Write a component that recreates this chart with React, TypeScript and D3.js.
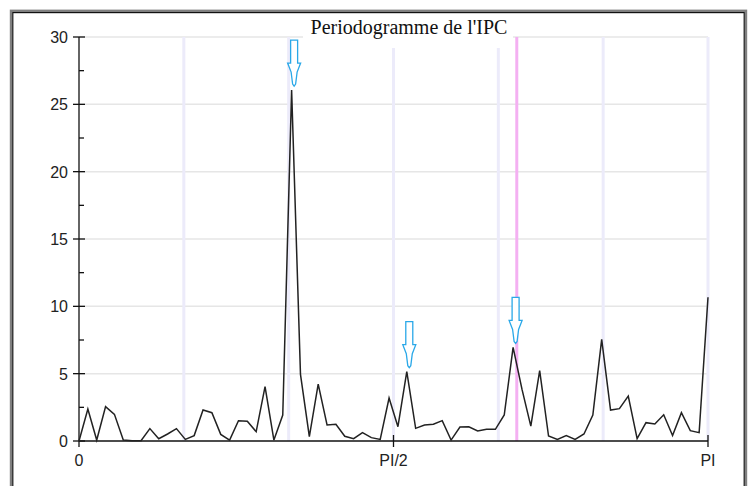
import React, { useRef, useEffect } from 'react';
import * as d3 from 'd3';

// periodogram ordinates, k = 0..71, frequency k*PI/71
const periodogram = [
  0, 2.38, 0.07, 2.55, 1.98, 0.07, 0.02, 0.02, 0.92, 0.17,
  0.52, 0.92, 0.12, 0.4, 2.3, 2.1, 0.49, 0.07, 1.51, 1.46,
  0.69, 4.03, 0.07, 1.93, 26.06, 4.95, 0.32, 4.23, 1.19, 1.24,
  0.35, 0.17, 0.62, 0.25, 0.12, 3.19, 1.06, 5.15, 0.94, 1.19,
  1.24, 1.51, 0.07, 1.04, 1.06, 0.74, 0.87, 0.87, 1.93, 6.95,
  3.85, 1.11, 5.22, 0.37, 0.12, 0.4, 0.12, 0.52, 1.93, 7.55,
  2.3, 2.4, 3.34, 0.17, 1.36, 1.26, 1.95, 0.4, 2.1, 0.77,
  0.62, 10.67,
];
const seasonalFreqs = [1, 2, 3, 4, 5, 6].map(k => (k * Math.PI) / 6);
const tradingDayFreq = 0.348 * 2 * Math.PI;
const arrowPeaks = [24, 37, 49];
const yTicks = [0, 5, 10, 15, 20, 25, 30];
const yMinorTicks = [2.5, 7.5, 12.5, 17.5, 22.5, 27.5];
const xTicks = [
  { value: 0, label: '0' },
  { value: Math.PI / 2, label: 'PI/2' },
  { value: Math.PI, label: 'PI' },
];

const W = 749;
const H = 486;
const sans = '"Liberation Sans", Arial, sans-serif';

function Periodogram() {
  const svgRef = useRef<SVGSVGElement>(null);

  useEffect(() => {
    const svg = d3.select(svgRef.current);
    svg.selectAll('*').remove();

    const x = d3.scaleLinear().domain([0, Math.PI]).range([79, 708]);
    const y = d3.scaleLinear().domain([0, 30]).range([441, 37]);
    const n = periodogram.length - 1;

    // frame
    svg.append('rect').attr('x', 0).attr('y', 0).attr('width', W).attr('height', H).attr('fill', '#fff');
    svg.append('rect')
      .attr('x', 11).attr('y', 10.8).attr('width', 735).attr('height', 490)
      .attr('fill', 'none').attr('stroke', '#808080').attr('stroke-width', 2.4);
    svg.append('rect')
      .attr('x', 12.8).attr('y', 12.6).attr('width', 731.4).attr('height', 490)
      .attr('fill', 'none').attr('stroke', '#111').attr('stroke-width', 1.2);

    // horizontal grid
    svg.append('g').selectAll('line')
      .data(yTicks.filter(d => d > 0))
      .enter().append('line')
      .attr('x1', x(0)).attr('x2', x(Math.PI))
      .attr('y1', d => y(d)).attr('y2', d => y(d))
      .attr('stroke', '#e6e6e6').attr('stroke-width', 1.5);

    // seasonal + trading day frequencies
    svg.append('g').selectAll('line')
      .data(seasonalFreqs)
      .enter().append('line')
      .attr('x1', d => x(d)).attr('x2', d => x(d))
      .attr('y1', y(30)).attr('y2', y(0))
      .attr('stroke', '#ecebfa').attr('stroke-width', 3);
    svg.append('line')
      .attr('x1', x(tradingDayFreq)).attr('x2', x(tradingDayFreq))
      .attr('y1', y(30)).attr('y2', y(0))
      .attr('stroke', '#f4b0f2').attr('stroke-width', 3);

    // title with its white box
    svg.append('rect')
      .attr('x', 303).attr('y', 18).attr('width', 210).attr('height', 30)
      .attr('fill', '#fff');
    svg.append('text')
      .attr('x', 409).attr('y', 34)
      .attr('text-anchor', 'middle')
      .attr('font-family', '"Liberation Serif", "Times New Roman", serif')
      .attr('font-size', 20)
      .attr('fill', '#111')
      .text("Periodogramme de l'IPC");

    // y axis
    const ya = svg.append('g').attr('stroke', '#111');
    ya.append('line').attr('x1', x(0)).attr('x2', x(0)).attr('y1', y(30)).attr('y2', y(0)).attr('stroke-width', 1.3);
    ya.selectAll('.maj').data(yTicks).enter().append('line')
      .attr('x1', x(0) - 6).attr('x2', x(0) + 6)
      .attr('y1', d => y(d)).attr('y2', d => y(d)).attr('stroke-width', 1.3);
    ya.selectAll('.min').data(yMinorTicks).enter().append('line')
      .attr('x1', x(0)).attr('x2', x(0) + 5)
      .attr('y1', d => y(d)).attr('y2', d => y(d)).attr('stroke-width', 1.3);
    svg.append('g').selectAll('text')
      .data(yTicks).enter().append('text')
      .attr('x', 68).attr('y', d => y(d) + 6)
      .attr('text-anchor', 'end')
      .attr('font-family', sans).attr('font-size', 16).attr('fill', '#222')
      .text(d => d);

    // x axis
    const xa = svg.append('g').attr('stroke', '#111');
    xa.append('line').attr('x1', x(0)).attr('x2', x(Math.PI)).attr('y1', y(0)).attr('y2', y(0)).attr('stroke-width', 1.3);
    xa.selectAll('.t').data(xTicks).enter().append('line')
      .attr('x1', d => x(d.value)).attr('x2', d => x(d.value))
      .attr('y1', d => (d.value === 0 ? y(0) : y(0) - 6)).attr('y2', y(0) + 6)
      .attr('stroke-width', 1.3);
    svg.append('g').selectAll('text')
      .data(xTicks).enter().append('text')
      .attr('x', d => x(d.value)).attr('y', 466)
      .attr('text-anchor', 'middle')
      .attr('font-family', sans).attr('font-size', 16).attr('fill', '#222')
      .text(d => d.label);

    // periodogram line
    const line = d3.line<number>()
      .x((d, i) => x((i * Math.PI) / n))
      .y(d => y(d));
    svg.append('path')
      .datum(periodogram)
      .attr('d', line)
      .attr('fill', 'none')
      .attr('stroke', '#222')
      .attr('stroke-width', 1.5)
      .attr('stroke-linejoin', 'miter');

    // hollow arrows over the main peaks
    svg.append('g').selectAll('path')
      .data(arrowPeaks)
      .enter().append('path')
      .attr('d', k => {
        const cx = x((k * Math.PI) / n) + 2.5;
        const tip = y(periodogram[k]) - 4;
        const top = tip - 46;
        const sh = top + 23;
        return `M${cx - 3.5},${top} L${cx + 3.5},${top} L${cx + 3.5},${sh} L${cx + 6.5},${sh} ` +
          `L${cx + 3},${sh + 9} L${cx + 1.5},${tip - 2} L${cx},${tip} L${cx - 1.5},${tip - 2} ` +
          `L${cx - 3},${sh + 9} L${cx - 6.5},${sh} L${cx - 3.5},${sh} Z`;
      })
      .attr('fill', '#fff')
      .attr('stroke', '#2aa8e8')
      .attr('stroke-width', 1.3);

    return () => {
      svg.selectAll('*').remove();
    };
  }, []);

  return <svg ref={svgRef} width={W} height={H} style={{ position: 'absolute', left: 0, top: 0 }} />;
}

export default function App() {
  return <Periodogram />;
}
